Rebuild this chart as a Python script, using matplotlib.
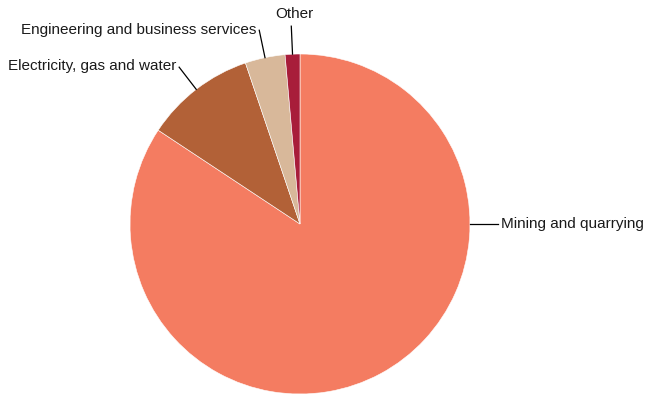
import numpy as np
import matplotlib
matplotlib.use('Agg')
from matplotlib import pyplot as plt

plt.rcParams['font.family'] = ['Liberation Sans', 'DejaVu Sans']

sectors = ['Mining and quarrying', 'Electricity, gas and water',
           'Engineering and business services', 'Other']
shares = [84.3, 10.5, 3.8, 1.4]
colours = ['#F47C61', '#B26137', '#D8B89A', '#A81D3A']

W, H = 646, 396
cx, cy, r = 300, 224, 170

fig = plt.figure(figsize=(W / 100, H / 100), dpi=100)
ax = fig.add_axes([(cx - r) / W, (H - cy - r) / H, 2 * r / W, 2 * r / H])

wedges, _ = ax.pie(shares, colors=colours, startangle=90, counterclock=False,
                   radius=1, wedgeprops=dict(edgecolor='white', linewidth=0.4))
ax.set_xlim(-1, 1)
ax.set_ylim(-1, 1)
ax.axis('off')

lead = 28 / r
for w, name in zip(wedges, sectors):
    # big slice gets its label at 3 o'clock, the rest at mid-angle
    if w.theta2 - w.theta1 > 180:
        ang = 0.0
    else:
        ang = (w.theta1 + w.theta2) / 2
    a = np.deg2rad(ang)
    x0, y0 = np.cos(a), np.sin(a)
    x1, y1 = (1 + lead) * x0, (1 + lead) * y0
    ax.plot([x0, x1], [y0, y1], color='black', lw=0.9, clip_on=False)
    if x0 > 0.15:
        ha, va, off = 'left', 'center', (2.5, 0)
    elif x0 < -0.15:
        ha, va, off = 'right', 'center', (-2, 0.5)
    else:
        ha, va, off = 'center', 'bottom', (2, 4)
    ax.annotate(name, (x1, y1), xytext=off, textcoords='offset points',
                ha=ha, va=va, fontsize=11, color='#1a1a1a',
                annotation_clip=False)

fig.savefig('out.png', dpi=100, facecolor='white')
